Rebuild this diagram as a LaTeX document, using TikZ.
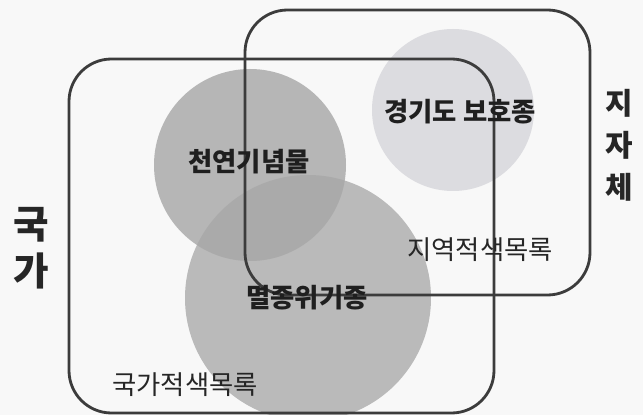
\documentclass[tikz,border=0pt]{standalone}
\usepackage{fontspec}
\setmainfont{Noto Sans CJK KR}
\definecolor{paper}{HTML}{F8F8F8}
\definecolor{linegray}{HTML}{3C3C3C}
\definecolor{natfill}{HTML}{B6B6B6}
\definecolor{endfill}{HTML}{BABABA}
\definecolor{bothfill}{HTML}{AAAAAA}
\definecolor{provfill}{HTML}{DCDCE0}
\begin{document}
\begin{tikzpicture}[x=0.02cm, y=-0.02cm,
  frame/.style={draw=linegray, line width=1.6pt, rounded corners=0.85cm},
  keylabel/.style={font=\fontsize{15}{18}\selectfont\bfseries, text=black!88, inner sep=0pt},
  listlabel/.style={font=\fontsize{15}{18}\selectfont, text=black!85, inner sep=0pt},
  sidelabel/.style={align=center, text=black!85, inner sep=0pt}
]
  \fill[paper] (0,0) rectangle (643,415);
  \useasboundingbox (0,0) rectangle (643,415);

  % species groups
  \fill[endfill] (308,298) circle[radius=123];
  \fill[natfill] (250,165) circle[radius=96];
  \begin{scope}
    \clip (250,165) circle[radius=96];
    \fill[bothfill] (308,298) circle[radius=123];
  \end{scope}
  \fill[provfill] (453,110) circle[radius=81];

  % national and local lists
  \draw[frame] (69,59) rectangle (494,413);
  \draw[frame] (245,10) rectangle (590,295);

  \node[keylabel] (natmon) at (249,162) {천연기념물};
  \node[keylabel] (endang) at (307,298) {멸종위기종};
  \node[keylabel] (provsp) at (460,112) {경기도 보호종};
  \node[listlabel] (locred) at (480,250) {지역적색목록};
  \node[listlabel] (natred) at (185,385) {국가적색목록};

  \node[sidelabel, font=\fontsize{22}{27}\selectfont\bfseries] (nation) at (31,248) {국\\가};
  \node[sidelabel, font=\fontsize{17}{24}\selectfont\bfseries] (local) at (619,145) {지\\자\\체};
\end{tikzpicture}
\end{document}
